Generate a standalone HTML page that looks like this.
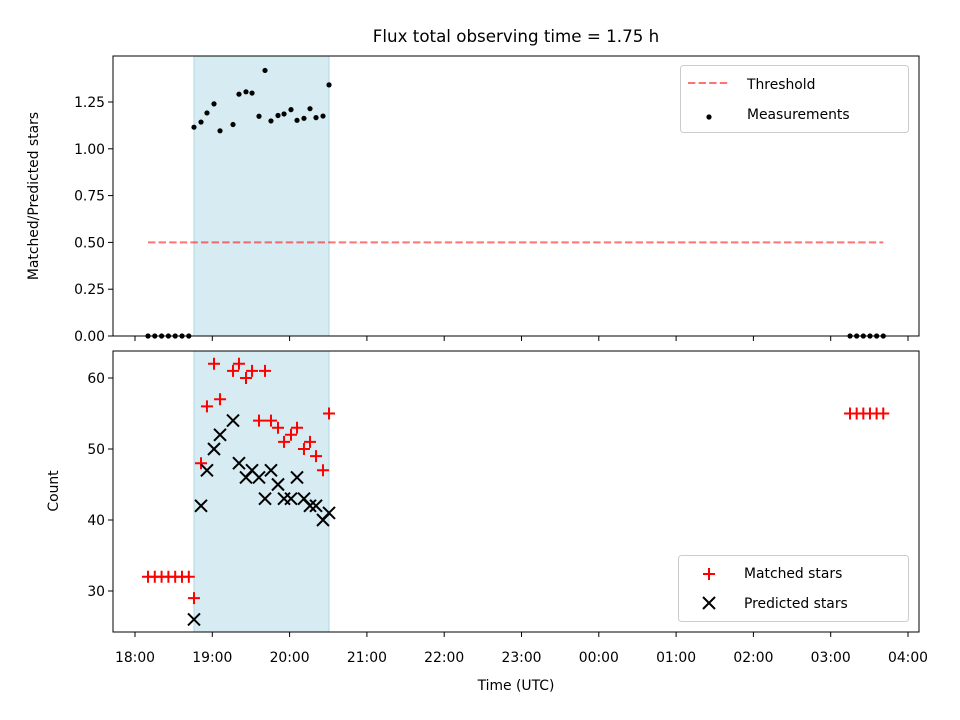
<!DOCTYPE html>
<html><head><meta charset="utf-8"><style>
body{margin:0;background:#fff}
svg{display:block;font-family:"DejaVu Sans","Liberation Sans",sans-serif}
</style></head><body>
<svg id="chart" width="960" height="720" viewBox="0 0 960 720" xmlns="http://www.w3.org/2000/svg" style="position:absolute;left:0;top:0">
<rect width="960" height="720" fill="#fff"/>
<text x="516" y="42" font-size="16.7" text-anchor="middle" fill="#000">Flux total observing time = 1.75 h</text>
<g id="gtop"></g>
<g id="gbot"></g>
</svg>
<script>
// times in hours after 18:00
const earlyTimes = [0.168, 0.256, 0.344, 0.432, 0.520, 0.608, 0.696];
const earlyMatched = [32, 32, 32, 32, 32, 32, 32];
const obsTimes = [0.763, 0.854, 0.931, 1.022, 1.100, 1.268, 1.345, 1.436, 1.514, 1.604, 1.682, 1.759, 1.850, 1.928, 2.018, 2.096, 2.186, 2.264, 2.342, 2.432, 2.510];
const obsMatched = [29, 48, 56, 62, 57, 61, 62, 60, 61, 54, 61, 54, 53, 51, 52, 53, 50, 51, 49, 47, 55];
const obsPredicted = [26, 42, 47, 50, 52, 54, 48, 46, 47, 46, 43, 47, 45, 43, 43, 46, 43, 42, 42, 40, 41];
const lateTimes = [9.25, 9.336, 9.422, 9.508, 9.594, 9.68];
const lateMatched = [55, 55, 55, 55, 55, 55];
const threshold = 0.5;
const thresholdRange = [0.168, 9.68];
const shadeRange = [0.763, 2.510];
const xTickLabels = ["18:00","19:00","20:00","21:00","22:00","23:00","00:00","01:00","02:00","03:00","04:00"];
const topYTicks = [0, 0.25, 0.5, 0.75, 1.0, 1.25];
const botYTicks = [30, 40, 50, 60];

const NS = "http://www.w3.org/2000/svg";
const L = 113, R = 919;
const TT = 56, TB = 336, BT = 351, BB = 632;
function x(h){ return 135 + h * 77.3; }
function yTop(v){ return 336 - v * 187.2; }
function yBot(v){ return 378 - (v - 60) * 7.1; }
function mk(tag, attrs, parent){
  const e = document.createElementNS(NS, tag);
  for (const k in attrs) e.setAttribute(k, attrs[k]);
  parent.appendChild(e); return e;
}
const gTop = document.getElementById('gtop');
const gBot = document.getElementById('gbot');

function panel(g, t, b, name){
  const s = mk('rect', {x: x(shadeRange[0]), y: t, width: x(shadeRange[1]) - x(shadeRange[0]), height: b - t, fill: '#add8e6', 'fill-opacity': 0.5, stroke:'#add8e6', 'stroke-width':1}, g);
  
  
}
panel(gTop, TT, TB, 'top');
panel(gBot, BT, BB, 'bottom');

const th = mk('line', {x1: x(thresholdRange[0]), x2: x(thresholdRange[1]), y1: yTop(threshold), y2: yTop(threshold), stroke: '#ff0000', 'stroke-opacity': 0.55, 'stroke-width': 2, 'stroke-dasharray': '7.4,3.2'}, gTop);



function dot(h, v){
  const c = mk('circle', {cx: x(h), cy: yTop(v), r: 2.6, fill: '#000'}, gTop);
  
  
}
earlyTimes.forEach(h => dot(h, 0));
obsTimes.forEach((h, i) => dot(h, obsMatched[i] / obsPredicted[i]));
lateTimes.forEach(h => dot(h, 0));

function plus(h, v){
  const cx = x(h), cy = yBot(v);
  const p = mk('path', {d: `M${cx-6},${cy}H${cx+6}M${cx},${cy-6}V${cy+6}`, stroke: '#ff0000', 'stroke-width': 2}, gBot);
  
  
}
function cross(h, v){
  const cx = x(h), cy = yBot(v);
  const p = mk('path', {d: `M${cx-6},${cy-6}L${cx+6},${cy+6}M${cx-6},${cy+6}L${cx+6},${cy-6}`, stroke: '#000', 'stroke-width': 2}, gBot);
  
  
}
earlyTimes.forEach((h, i) => plus(h, earlyMatched[i]));
obsTimes.forEach((h, i) => plus(h, obsMatched[i]));
obsTimes.forEach((h, i) => cross(h, obsPredicted[i]));
lateTimes.forEach((h, i) => plus(h, lateMatched[i]));

[[gTop, TT, TB, 'top'], [gBot, BT, BB, 'bottom']].forEach(([g, t, b, n]) => {
  const f = mk('rect', {x: L, y: t, width: R - L, height: b - t, fill: 'none', stroke: '#000', 'stroke-width': 1}, g);
  
  
  xTickLabels.forEach((lab, i) => {
    const tk = mk('line', {x1: x(i), x2: x(i), y1: b, y2: b + 5, stroke: '#000', 'stroke-width': 1}, g);
    
    
    if (n === 'bottom') {
      const tx = mk('text', {x: x(i), y: b + 30, 'font-size': 13.9, 'text-anchor': 'middle', fill: '#000'}, g);
      tx.textContent = lab;
      
      
    }
  });
});
topYTicks.forEach(v => {
  const tk = mk('line', {x1: L - 5, x2: L, y1: yTop(v), y2: yTop(v), stroke: '#000'}, gTop);
  
  
  const tx = mk('text', {x: L - 8, y: yTop(v) + 5, 'font-size': 13.9, 'text-anchor': 'end', fill: '#000'}, gTop);
  tx.textContent = v.toFixed(2);
  
  
});
botYTicks.forEach(v => {
  const tk = mk('line', {x1: L - 5, x2: L, y1: yBot(v), y2: yBot(v), stroke: '#000'}, gBot);
  
  
  const tx = mk('text', {x: L - 8, y: yBot(v) + 5, 'font-size': 13.9, 'text-anchor': 'end', fill: '#000'}, gBot);
  tx.textContent = v;
  
  
});
</script>
<svg style="position:absolute;left:0;top:0" width="960" height="720">
<g font-family="DejaVu Sans, Liberation Sans, sans-serif" font-size="13.9" fill="#000">
<text transform="translate(38,196) rotate(-90)" text-anchor="middle">Matched/Predicted stars</text>
<text transform="translate(58,491) rotate(-90)" text-anchor="middle">Count</text>
<text x="516" y="690" text-anchor="middle">Time (UTC)</text>
<g>
<rect x="680.5" y="65.5" width="228" height="67" rx="3" fill="#fff" fill-opacity="0.8" stroke="#ccc"/>
<line x1="688" x2="728" y1="83" y2="83" stroke="#ff0000" stroke-opacity="0.55" stroke-width="2" stroke-dasharray="7.4,3.2"/>
<text x="747" y="89">Threshold</text>
<circle cx="709" cy="117" r="2.6" fill="#000"/>
<text x="747" y="119">Measurements</text>
</g>
<g>
<rect x="678.5" y="555.5" width="230" height="66" rx="3" fill="#fff" fill-opacity="0.8" stroke="#ccc"/>
<path d="M703,574H715M709,568V580" stroke="#ff0000" stroke-width="2"/>
<text x="744" y="578">Matched stars</text>
<path d="M703,597L715,609M703,609L715,597" stroke="#000" stroke-width="2"/>
<text x="744" y="608">Predicted stars</text>
</g>
</g>
</svg>
</body></html>
